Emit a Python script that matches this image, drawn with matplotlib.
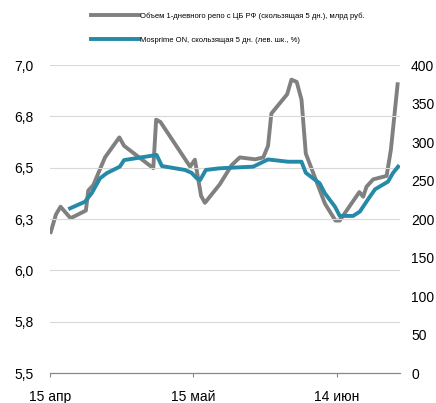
import matplotlib
matplotlib.use('Agg')
import matplotlib.pyplot as plt

plt.rcParams['font.family'] = ['Liberation Sans', 'DejaVu Sans']

# days since 15 Apr
repo_days = [0.15, 1.25, 2.2, 4.3, 7.5, 8.0, 9.05, 11.5, 14.5, 15.5, 21.6, 22.2,
             23.1, 29.3, 30.3, 31.6, 32.4, 35.5, 38.0, 39.7, 42.9, 44.6, 45.6,
             46.3, 49.6, 50.5, 51.6, 52.6, 53.5, 57.5, 59.7, 60.6, 64.7, 65.5,
             66.2, 67.6, 70.4, 71.3, 72.7]
repo_vals = [183, 206, 216, 201, 211, 237, 244, 280, 306, 295, 266, 329,
             326, 268, 277, 230, 221, 245, 270, 280, 277.5, 280, 295,
             337, 362, 381, 378, 355, 285, 220, 198, 198, 235, 229,
             242, 251.5, 256, 290, 375]

mos_days = [4.2, 7.3, 8.7, 10.45, 11.85, 14.6, 15.5, 22.3, 23.4, 28.2, 29.6,
            30.7, 31.4, 32.6, 35.5, 42.5, 45.6, 49.8, 52.6, 53.5, 56.4, 57.5,
            59.6, 60.6, 63.4, 64.8, 66.9, 68.0, 70.7, 71.7, 72.8]
mos_vals = [6.302, 6.334, 6.375, 6.448, 6.473, 6.505, 6.537, 6.562, 6.508,
            6.489, 6.475, 6.448, 6.44, 6.489, 6.497, 6.505, 6.54, 6.529,
            6.529, 6.475, 6.424, 6.375, 6.31, 6.265, 6.265, 6.286, 6.359,
            6.395, 6.432, 6.473, 6.505]

left_ticks = [5.5, 5.75, 6.0, 6.25, 6.5, 6.75, 7.0]
left_labels = ['5,5', '5,8', '6,0', '6,3', '6,5', '6,8', '7,0']
right_ticks = [0, 50, 100, 150, 200, 250, 300, 350, 400]
x_ticks = [0, 30, 60]
x_labels = ['15 апр', '15 май', '14 июн']

GRAY = '#808080'
TEAL = '#2589a8'

fig = plt.figure(figsize=(4.36, 4.03), dpi=100)
ax = fig.add_axes([0.1147, 0.0744, 0.8027, 0.7643])
ax2 = ax.twinx()

l1, = ax2.plot(repo_days, repo_vals, color=GRAY, lw=2.8,
               label='Объем 1-дневного репо с ЦБ РФ (скользящая 5 дн.), млрд руб.')
l2, = ax.plot(mos_days, mos_vals, color=TEAL, lw=2.8,
              label='Mosprime ON, скользящая 5 дн. (лев. шк., %)')
ax.set_zorder(ax2.get_zorder() + 1)
ax.patch.set_visible(False)

ax.set_xlim(0, 73.2)
ax.set_ylim(5.5, 7.0)
ax2.set_ylim(0, 400)
ax.set_yticks(left_ticks)
ax.set_yticklabels(left_labels)
ax2.set_yticks(right_ticks)
ax.set_xticks(x_ticks)
ax.set_xticklabels(x_labels)

for a in (ax, ax2):
    for s in ('top', 'left', 'right'):
        a.spines[s].set_visible(False)
    a.spines['bottom'].set_color('#888888')
ax.tick_params(axis='y', length=0, labelsize=10, pad=12)
ax2.tick_params(axis='y', length=0, labelsize=10, pad=8)
ax.tick_params(axis='x', length=3, color='#888888', labelsize=10, pad=9)
ax.yaxis.grid(True, color='#d9d9d9', lw=0.8)
ax.set_axisbelow(True)

fig.legend(handles=[l1, l2], loc='center left', bbox_to_anchor=(0.2, 0.93),
           frameon=False, fontsize=5.5, handlelength=6.3, handletextpad=0.1,
           labelspacing=2.2, borderpad=0)

fig.savefig('out.png', dpi=100)
